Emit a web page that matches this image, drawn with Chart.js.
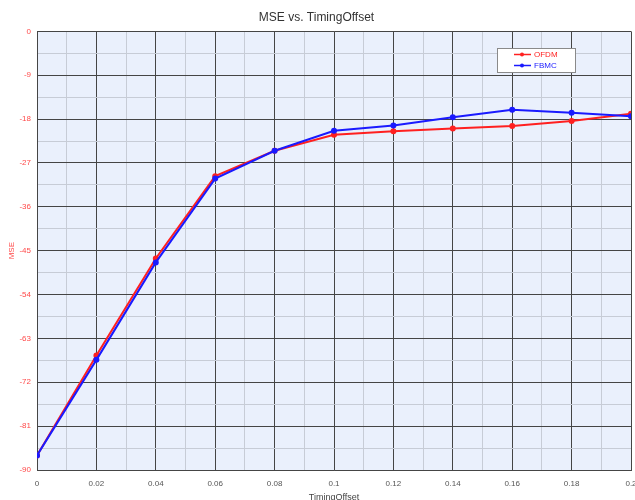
<!DOCTYPE html>
<html>
<head>
<meta charset="utf-8">
<script src="https://cdn.jsdelivr.net/npm/chart.js@4"></script>
<style>
  body { margin: 0; background: #fff; }
  #chart { display: block; }
</style>
</head>
<body>
<canvas id="chart" width="635" height="500"></canvas>
<script>
const offsets = [0, 0.02, 0.04, 0.06, 0.08, 0.1, 0.12, 0.14, 0.16, 0.18, 0.2];
const ofdmMse = [-87.0, -66.5, -46.6, -29.7, -24.5, -21.2, -20.5, -19.9, -19.4, -18.4, -16.9];
const fbmcMse = [-87.0, -67.4, -47.4, -30.2, -24.5, -20.4, -19.3, -17.6, -16.1, -16.7, -17.4];

const toPoints = (ys) => offsets.map((x, i) => ({ x: x, y: ys[i] }));

const majorGrid = "#454545";
const minorGrid = "#c7ccd6";

// light blue fill behind the plot
const plotBackground = {
    id: "plotBackground",
    beforeDraw(chart) {
        const { ctx, chartArea } = chart;
        ctx.save();
        ctx.fillStyle = "#eaf0fc";
        ctx.fillRect(chartArea.left, chartArea.top, chartArea.right - chartArea.left, chartArea.bottom - chartArea.top);
        ctx.restore();
    },
};

// small boxed legend in the upper right of the plot
const boxLegend = {
    id: "boxLegend",
    afterDraw(chart) {
        const ctx = chart.ctx;
        const x = 497, y = 48, w = 78, h = 24;
        ctx.save();
        ctx.fillStyle = "#ffffff";
        ctx.fillRect(x, y, w, h);
        ctx.strokeStyle = "#8a8a8a";
        ctx.lineWidth = 1;
        ctx.strokeRect(x + 0.5, y + 0.5, w, h);
        ctx.font = "8px 'Liberation Sans', Arial, sans-serif";
        ctx.textBaseline = "middle";
        chart.data.datasets.forEach((ds, i) => {
            const rowY = y + 6.5 + i * 11;
            ctx.strokeStyle = ds.borderColor;
            ctx.lineWidth = 1.5;
            ctx.beginPath();
            ctx.moveTo(514, rowY);
            ctx.lineTo(531, rowY);
            ctx.stroke();
            ctx.fillStyle = ds.borderColor;
            ctx.beginPath();
            ctx.arc(522, rowY, 2, 0, Math.PI * 2);
            ctx.fill();
            ctx.fillText(ds.label, 534, rowY);
        });
        ctx.restore();
    },
};

new Chart(document.getElementById("chart"), {
    type: "line",
    data: {
        datasets: [
            {
                label: "OFDM",
                data: toPoints(ofdmMse),
                borderColor: "#ff2020",
                backgroundColor: "#ff2020",
                borderWidth: 2,
                pointRadius: 2,
                pointHoverRadius: 2,
                tension: 0,
                order: 1,
            },
            {
                label: "FBMC",
                data: toPoints(fbmcMse),
                borderColor: "#1a1aff",
                backgroundColor: "#1a1aff",
                borderWidth: 2,
                pointRadius: 2,
                pointHoverRadius: 2,
                tension: 0,
                order: 0,
            },
        ],
    },
    options: {
        responsive: false,
        animation: false,
        devicePixelRatio: 1,
        layout: { padding: { left: 0, right: 2, top: 0, bottom: 0 } },
        plugins: {
            legend: { display: false },
            tooltip: { enabled: false },
            title: {
                display: true,
                text: "MSE vs. TimingOffset",
                color: "#333333",
                font: { family: "'Liberation Sans', Arial, sans-serif", size: 12, weight: "normal" },
                padding: { top: 10, bottom: 7 },
            },
        },
        scales: {
            x: {
                type: "linear",
                min: 0,
                max: 0.2,
                afterFit(scale) {
                    scale.height = 30;
                    scale.paddingLeft = 0;
                    scale.paddingRight = 0;
                },
                ticks: {
                    stepSize: 0.01,
                    autoSkip: false,
                    maxRotation: 0,
                    padding: 9,
                    color: "#555555",
                    font: { family: "'Liberation Sans', Arial, sans-serif", size: 8 },
                    callback: (v, i) => (i % 2 ? "" : String(Number(v.toFixed(2)))),
                },
                grid: {
                    drawTicks: false,
                    color: (c) => (c.index % 2 ? minorGrid : majorGrid),
                    lineWidth: 1,
                },
                border: { display: true, color: majorGrid, width: 1 },
                title: {
                    display: true,
                    text: "TimingOffset",
                    color: "#444444",
                    font: { family: "'Liberation Sans', Arial, sans-serif", size: 9 },
                    padding: { top: 0, bottom: -3 },
                },
            },
            y: {
                min: -90,
                max: 0,
                afterFit(scale) {
                    scale.width = 37;
                    scale.paddingTop = 0;
                    scale.paddingBottom = 0;
                },
                ticks: {
                    stepSize: 4.5,
                    autoSkip: false,
                    padding: 6,
                    color: "#ff4a4a",
                    font: { family: "'Liberation Sans', Arial, sans-serif", size: 8 },
                    callback: (v, i) => (i % 2 ? "" : String(Math.round(v))),
                },
                grid: {
                    drawTicks: false,
                    color: (c) => (c.index % 2 ? minorGrid : majorGrid),
                    lineWidth: 1,
                },
                border: { display: true, color: majorGrid, width: 1 },
                title: {
                    display: true,
                    text: "MSE",
                    color: "#ff4a4a",
                    font: { family: "'Liberation Sans', Arial, sans-serif", size: 8 },
                    padding: { top: 7, bottom: 0 },
                },
            },
        },
    },
    plugins: [plotBackground, boxLegend],
});
</script>
</body>
</html>
